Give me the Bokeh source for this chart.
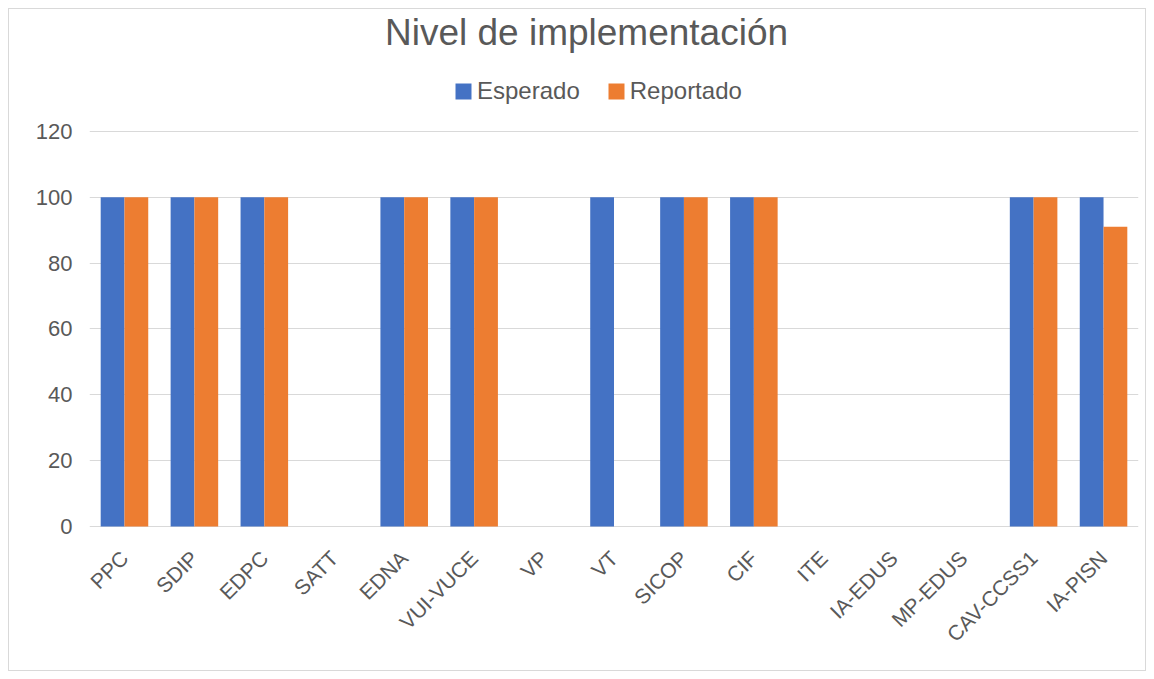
from bokeh.plotting import figure
from bokeh.models import ColumnDataSource, Legend, LegendItem, FactorRange, FixedTicker, Label
from bokeh.transform import dodge
from bokeh.embed import file_html
from bokeh.resources import INLINE
import math

categories = ["PPC", "SDIP", "EDPC", "SATT", "EDNA", "VUI-VUCE", "VP", "VT", "SICOP",
              "CIF", "ITE", "IA-EDUS", "MP-EDUS", "CAV-CCSS1", "IA-PISN"]
esperado = [100, 100, 100, 0, 100, 100, 0, 100, 100, 100, 0, 0, 0, 100, 100]
reportado = [100, 100, 100, 0, 100, 100, 0, 0, 100, 100, 0, 0, 0, 100, 91]
y_ticks = [0, 20, 40, 60, 80, 100, 120]

source = ColumnDataSource(dict(cat=categories, esp=esperado, rep=reportado))

FONT = "Liberation Sans"
GRAY = "#595959"

p = figure(width=1138, height=663, x_range=FactorRange(*categories), y_range=(-0.6, 157),
           output_backend="svg", toolbar_location=None,
           min_border_left=80, min_border_right=9, min_border_bottom=144, min_border_top=0)

r1 = p.vbar(x=dodge("cat", -0.17, range=p.x_range), top="esp", width=0.34, source=source,
            fill_color="#4472C4", line_color=None)
r2 = p.vbar(x=dodge("cat", 0.17, range=p.x_range), top="rep", width=0.34, source=source,
            fill_color="#ED7D31", line_color=None)

title = Label(text="Nivel de implementación", x=497, y=150, x_units="screen", y_units="data",
              text_align="center", text_baseline="alphabetic",
              text_font=FONT, text_font_size="37px", text_color=GRAY)
p.add_layout(title)

legend = Legend(items=[LegendItem(label="Esperado", renderers=[r1]),
                       LegendItem(label="Reportado", renderers=[r2])],
                orientation="horizontal", location=(364, 423),
                label_text_font=FONT, label_text_font_size="24px", label_text_color=GRAY,
                glyph_width=20, glyph_height=20, spacing=26, label_standoff=4,
                border_line_color=None, background_fill_alpha=0, padding=0, margin=0)
p.add_layout(legend, "center")

p.outline_line_color = None
p.xgrid.grid_line_color = None
p.ygrid.grid_line_color = "#d9d9d9"
p.ygrid.grid_line_width = 1
p.yaxis.ticker = FixedTicker(ticks=y_ticks)
p.yaxis.axis_line_color = None
p.yaxis.major_tick_line_color = None
p.yaxis.minor_tick_line_color = None
p.yaxis.major_tick_out = 0
p.yaxis.major_tick_in = 0
p.yaxis.major_label_text_font = FONT
p.yaxis.major_label_text_font_size = "22px"
p.yaxis.major_label_text_color = GRAY
p.yaxis.major_label_standoff = 17

p.xaxis.axis_line_color = None
p.xaxis.major_tick_line_color = None
p.xaxis.minor_tick_line_color = None
p.xaxis.major_tick_out = 0
p.xaxis.major_tick_in = 0
p.xaxis.major_label_orientation = math.pi / 4
p.xaxis.major_label_text_font = FONT
p.xaxis.major_label_text_font_size = "21px"
p.xaxis.major_label_text_color = GRAY
p.xaxis.major_label_standoff = 26
p.x_range.range_padding = 0
p.x_range.group_padding = 0

p.styles = {"border": "1px solid #d9d9d9", "box-sizing": "border-box", "margin": "8px 0 0 8px"}

open("out.html", "w").write(file_html(p, INLINE))
